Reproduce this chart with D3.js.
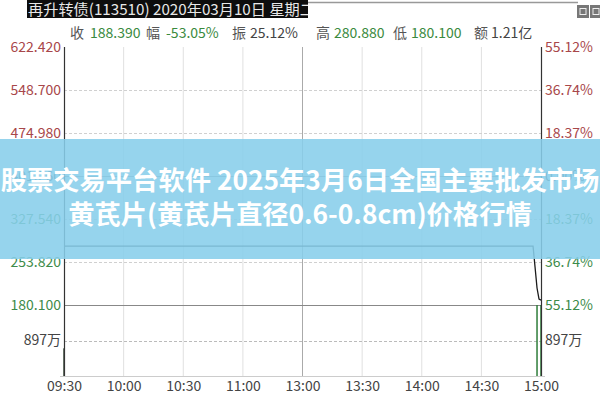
<!DOCTYPE html>
<html><head><meta charset="utf-8">
<script src="https://cdn.jsdelivr.net/npm/d3@7/dist/d3.min.js"></script>
<style>
html,body{margin:0;padding:0;background:#fff;}
svg{display:block;font-family:"Noto Sans CJK SC","Noto Sans",sans-serif;}
</style></head><body>
<svg id="c" width="600" height="400"></svg>
<script>
// ---- data ----
const titleText = "再升转债(113510) 2020年03月10日 星期二";
const statLabels = ["收","幅","振","高","低","额"];
const statValues = ["188.390","-53.05%","25.12%","280.880","180.100","1.21亿"];
const preClose = 401.26;
const priceTicks = [622.420, 548.700, 474.980, 401.260, 327.540, 253.820, 180.100];
const pctTicks = ["55.12%","36.74%","18.37%","0.00%","18.37%","36.74%","55.12%"];
const timeTicks = ["09:30","10:00","10:30","11:00","13:00","13:30","14:00","14:30","15:00"];
const priceTimes = ["09:30","14:56","14:57","14:58","14:59","15:00"];
const priceValues = [280.88, 280.88, 245.2, 209.2, 190.4, 188.39];
const volTimes = ["09:30","14:58","15:00"];
const volValues = [700, 1794, 1794];
const volMid = 897;
const bannerLines = ["股票交易平台软件 2025年3月6日全国主要批发市场","黄芪片(黄芪片直径0.6-0.8cm)价格行情"];

// ---- helpers ----
function tmin(s){const [h,m]=s.split(":").map(Number);const t=h*60+m;return t<=690? t-570 : t-780+120;}

const svg = d3.select("#c");
const L=64, R=541, T=47, PB=305, VB=376;
const x = d3.scaleLinear().domain([0,240]).range([L,R]);
const y = d3.scaleLinear().domain([180.1,622.42]).range([PB,T]);
const yv = d3.scaleLinear().domain([0,volMid*2]).range([VB,PB]);
const red="#a8474a", green="#3d8b4a", gray="#444";

// title bar
svg.append("line").attr("x1",300).attr("x2",578).attr("y1",2.5).attr("y2",2.5).attr("stroke","#999").attr("stroke-width",1.5);
svg.append("rect").attr("x",27).attr("y",0).attr("width",281).attr("height",18).attr("fill","#0d0d0d");
svg.append("clipPath").attr("id","tc").append("rect").attr("x",27).attr("y",0).attr("width",281).attr("height",18);
svg.append("text").attr("x",28).attr("y",14.5).attr("fill","#e8e8e8").attr("font-size",15.2).attr("clip-path","url(#tc)").text(titleText);
[577,590].forEach((bx,i)=>{
  svg.append("rect").attr("x",bx).attr("y",5).attr("width",12).attr("height",13).attr("fill","#777");
  svg.append("rect").attr("x",bx+3).attr("y",8.5).attr("width",6).attr("height",6).attr("fill","none").attr("stroke","#eee").attr("stroke-width",1);
});

// stats row
const statX = [[70,90],[146,166],[232,250],[316,334],[393,411],[474,491]];
statLabels.forEach((s,i)=>{
  svg.append("text").attr("x",statX[i][0]).attr("y",38).attr("font-size",14).attr("fill","#555").text(s);
  const col = (i===2||i===5)? "#444" : "#3a8a3e";
  svg.append("text").attr("x",statX[i][1]).attr("y",38).attr("font-size",14).attr("fill",col).text(statValues[i]);
});

// grid
const g = svg.append("g");
timeTicks.slice(1,-1).forEach(t=>{
  g.append("line").attr("x1",x(tmin(t))).attr("x2",x(tmin(t))).attr("y1",T).attr("y2",VB)
   .attr("stroke", t==="13:00"?"#aaa":"#e0e0e0").attr("stroke-width",1);
});
priceTicks.forEach(v=>{
  if(v===180.1||v===622.42) return;
  g.append("line").attr("x1",L).attr("x2",R).attr("y1",Math.round(y(v))+0.5).attr("y2",Math.round(y(v))+0.5)
   .attr("stroke", v===preClose?"#999":"#d0d0d0").attr("stroke-dasharray", v===preClose?null:"3,2");
});
g.append("line").attr("x1",L).attr("x2",R).attr("y1",PB+0.5).attr("y2",PB+0.5).attr("stroke","#888").attr("stroke-width",1.2);
g.append("line").attr("x1",L).attr("x2",R).attr("y1",Math.round(yv(volMid))+0.5).attr("y2",Math.round(yv(volMid))+0.5).attr("stroke","#bbb").attr("stroke-dasharray","3,2");
g.append("line").attr("x1",L-4).attr("x2",R+4).attr("y1",VB+0.5).attr("y2",VB+0.5).attr("stroke","#ccc");

// volume bars
svg.selectAll(".vb").data(volTimes.map((t,i)=>({t,v:volValues[i]}))).enter().append("rect")
  .attr("x",d=>x(tmin(d.t))-0.75).attr("width",1.5)
  .attr("y",d=>yv(d.v)).attr("height",d=>VB-yv(d.v))
  .attr("fill",(d,i)=>i===0?"#3a4a3a":"#2f7d3a");

// price line
const pdata = priceTimes.map((t,i)=>({m:tmin(t),p:priceValues[i]}));
svg.append("path").datum(pdata).attr("fill","none").attr("stroke","#1b1b1b").attr("stroke-width",1.3)
  .attr("d",d3.line().x(d=>x(d.m)).y(d=>y(d.p)));

// axes lines
svg.append("line").attr("x1",L+0.5).attr("x2",L+0.5).attr("y1",T).attr("y2",VB).attr("stroke","#333").attr("stroke-width",1.2);
svg.append("line").attr("x1",R+0.5).attr("x2",R+0.5).attr("y1",T).attr("y2",VB).attr("stroke","#333").attr("stroke-width",1.2);

// left axis
const la = svg.append("g").attr("transform",`translate(${L-2},0)`)
  .call(d3.axisLeft(y).tickValues(priceTicks).tickSize(0).tickPadding(1).tickFormat(d3.format(".3f")));
la.select(".domain").remove();
la.selectAll("text").attr("font-size",14).attr("font-family","'Noto Sans CJK SC',sans-serif")
  .attr("fill",d=>d>preClose+0.01?red:(d<preClose-0.01?green:gray));
// right axis
const ra = svg.append("g").attr("transform",`translate(${R+3},0)`)
  .call(d3.axisRight(y).tickValues(priceTicks).tickSize(0).tickPadding(1).tickFormat((d,i)=>pctTicks[i]));
ra.select(".domain").remove();
ra.selectAll("text").attr("font-size",14).attr("font-family","'Noto Sans CJK SC',sans-serif")
  .attr("fill",d=>d>preClose+0.01?red:(d<preClose-0.01?green:gray));
// volume labels
const vla = svg.append("g").attr("transform",`translate(${L-2},0)`)
  .call(d3.axisLeft(yv).tickValues([volMid]).tickSize(0).tickPadding(1).tickFormat(d=>d+"万"));
vla.select(".domain").remove();
vla.selectAll("text").attr("font-size",14).attr("fill",gray).attr("font-family","'Noto Sans CJK SC',sans-serif");
const vra = svg.append("g").attr("transform",`translate(${R+3},0)`)
  .call(d3.axisRight(yv).tickValues([volMid]).tickSize(0).tickPadding(1).tickFormat(d=>d+"万"));
vra.select(".domain").remove();
vra.selectAll("text").attr("font-size",14).attr("fill",gray).attr("font-family","'Noto Sans CJK SC',sans-serif");
// bottom axis
const ba = svg.append("g").attr("transform",`translate(0,${VB+2})`)
  .call(d3.axisBottom(x).tickValues(timeTicks.map(tmin)).tickSize(0).tickPadding(3).tickFormat((d,i)=>timeTicks[i]));
ba.select(".domain").remove();
ba.selectAll("text").attr("font-size",14).attr("fill",gray).attr("font-family","'Noto Sans CJK SC',sans-serif");

// banner overlay
svg.append("rect").attr("x",0).attr("y",139).attr("width",600).attr("height",120).attr("fill","rgb(135,206,235)").attr("fill-opacity",0.88);
bannerLines.forEach((s,i)=>{
  svg.append("text").attr("x",300).attr("y",i===0?190:224).attr("text-anchor","middle")
    .attr("font-size",26.3).attr("font-weight","bold").attr("fill","#fff").text(s);
});
</script></body></html>
